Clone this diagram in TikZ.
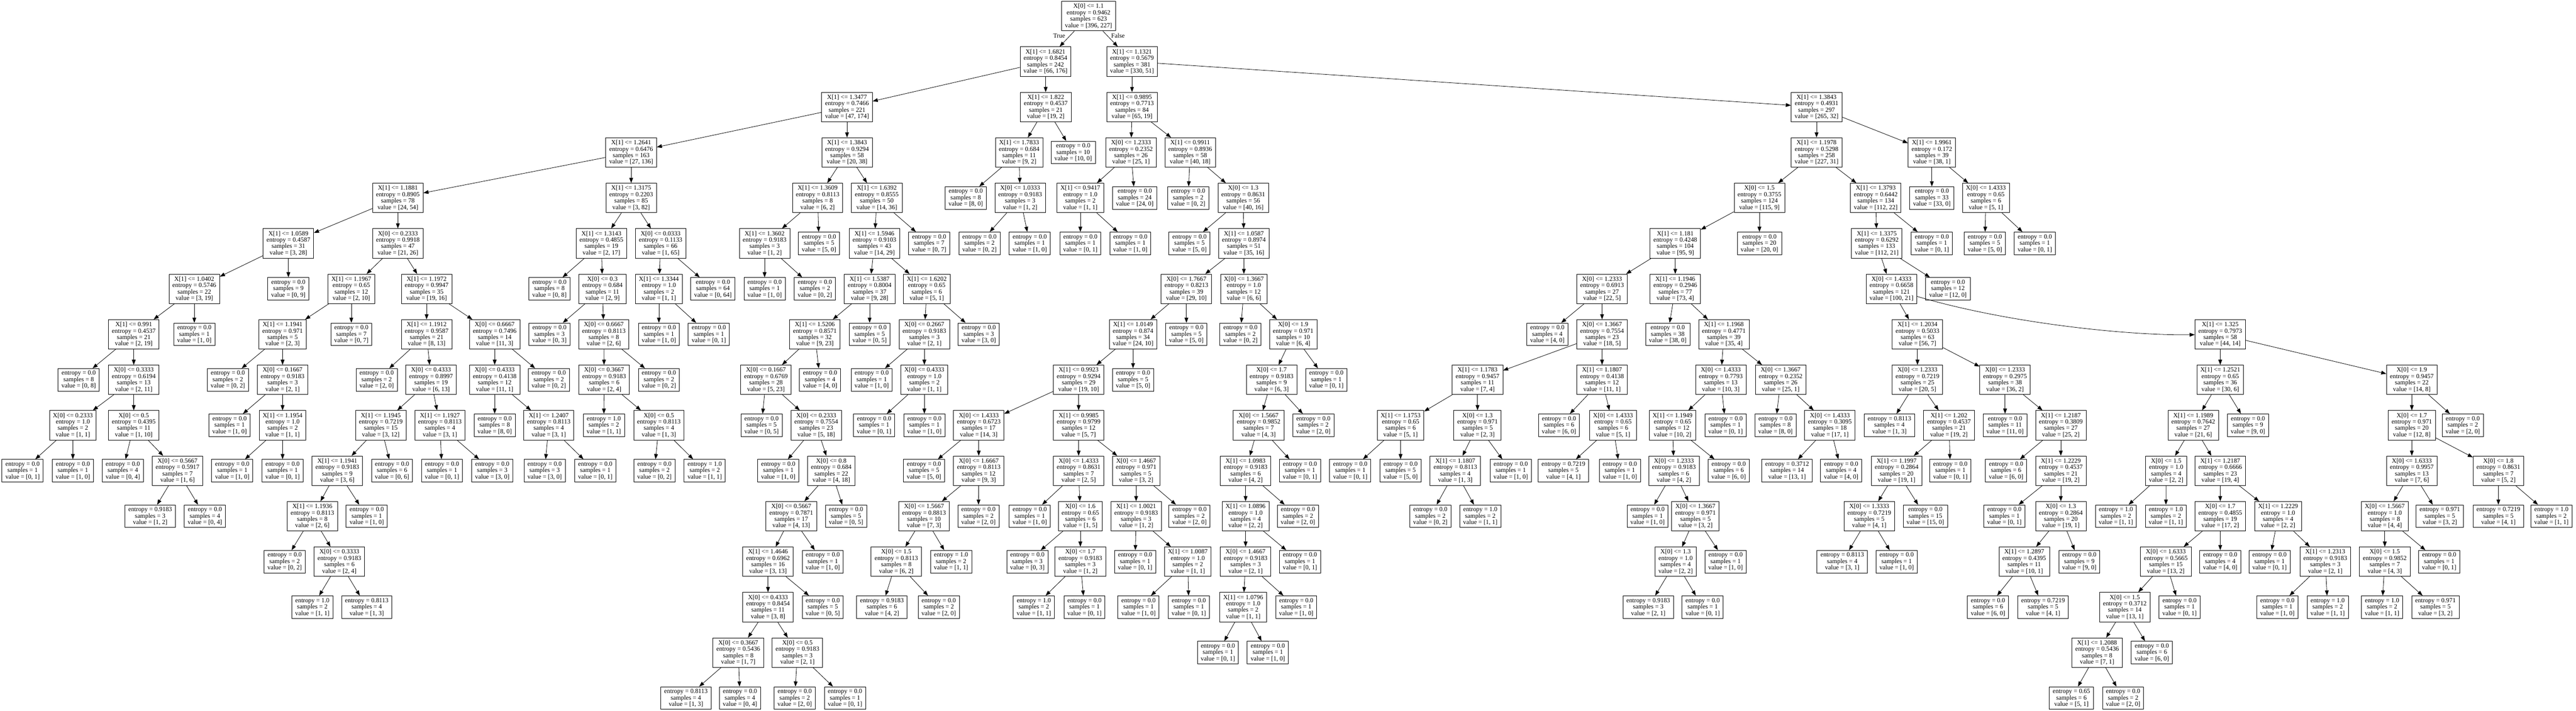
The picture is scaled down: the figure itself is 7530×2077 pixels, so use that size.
\documentclass[tikz,border=0pt]{standalone}
\usepackage{fontspec}
\setmainfont{Liberation Serif}
\usetikzlibrary{arrows.meta}
\newcommand{\DN}[7]{\node[dec] (#1) at (#2,{47+132.9*#3}) {#4\\entropy = #5\\samples = #6\\value = [#7]};}
\newcommand{\LN}[6]{\node[lf] (#1) at (#2,{47+132.9*#3}) {entropy = #4\\samples = #5\\value = [#6]};}
\newcommand{\ED}[2]{\draw[edge] (#1) -- (#2);}
\begin{document}
\begin{tikzpicture}[x=1pt,y=-1pt,
 box/.style={draw, line width=1.3pt, inner xsep=10pt, inner ysep=2pt, align=center, font=\fontsize{18.6}{18.7}\selectfont},
 dec/.style={box, minimum height=86pt},
 lf/.style={box, minimum height=66pt},
 edge/.style={line width=1.2pt, -{Triangle[length=15pt,width=11pt]}},
 lbl/.style={font=\fontsize{18.6}{18.7}\selectfont}]
\fill[white] (0,0) rectangle (7530,2077);
\useasboundingbox (0,0) rectangle (7530,2077);
% root
\DN{r}{3182}{0}{X[0] <= 1.1}{0.9462}{623}{396, 227}
\DN{a}{3056}{1}{X[1] <= 1.6821}{0.8454}{242}{66, 176}
\DN{b}{3309}{1}{X[1] <= 1.1321}{0.5679}{381}{330, 51}
\ED{r}{a}\ED{r}{b}
\node[lbl] (ltrue) at (3096,105) {True};
\node[lbl] (lfalse) at (3268,105) {False};
% left subtree
\DN{a1}{2476}{2}{X[1] <= 1.3477}{0.7466}{221}{47, 174}
\DN{a2}{3057}{2}{X[1] <= 1.822}{0.4537}{21}{19, 2}
\ED{a}{a1}\ED{a}{a2}
\DN{a11}{1845}{3}{X[1] <= 1.2641}{0.6476}{163}{27, 136}
\DN{a12}{2476}{3}{X[1] <= 1.3843}{0.9294}{58}{20, 38}
\ED{a1}{a11}\ED{a1}{a12}
\DN{a21}{2979}{3}{X[1] <= 1.7833}{0.684}{11}{9, 2}
\LN{a22}{3137}{3}{0.0}{10}{10, 0}
\ED{a2}{a21}\ED{a2}{a22}
\LN{a211}{2823}{4}{0.0}{8}{8, 0}
\DN{a212}{2982}{4}{X[0] <= 1.0333}{0.9183}{3}{1, 2}
\ED{a21}{a211}\ED{a21}{a212}
\LN{a2121}{2863}{5}{0.0}{2}{0, 2}
\LN{a2122}{3010}{5}{0.0}{1}{1, 0}
\ED{a212}{a2121}\ED{a212}{a2122}
\DN{a111}{1163}{4}{X[1] <= 1.1881}{0.8905}{78}{24, 54}
\DN{a112}{1845}{4}{X[1] <= 1.3175}{0.2203}{85}{3, 82}
\ED{a11}{a111}\ED{a11}{a112}
\DN{a121}{2390}{4}{X[1] <= 1.3609}{0.8113}{8}{6, 2}
\DN{a122}{2563}{4}{X[1] <= 1.6392}{0.8555}{50}{14, 36}
\ED{a12}{a121}\ED{a12}{a122}
% c
\DN{c1}{843}{5}{X[1] <= 1.0589}{0.4587}{31}{3, 28}
\DN{c2}{1163}{5}{X[0] <= 0.2333}{0.9918}{47}{21, 26}
\ED{a111}{c1}\ED{a111}{c2}
\DN{c11}{568}{6}{X[1] <= 1.0402}{0.5746}{22}{3, 19}
\LN{c12}{843}{6}{0.0}{9}{0, 9}
\ED{c1}{c11}\ED{c1}{c12}
\DN{c111}{391}{7}{X[1] <= 0.991}{0.4537}{21}{2, 19}
\LN{c112}{568}{7}{0.0}{1}{1, 0}
\ED{c11}{c111}\ED{c11}{c112}
\LN{c1111}{230}{8}{0.0}{8}{0, 8}
\DN{c1112}{391}{8}{X[0] <= 0.3333}{0.6194}{13}{2, 11}
\ED{c111}{c1111}\ED{c111}{c1112}
\DN{c11121}{213}{9}{X[0] <= 0.2333}{1.0}{2}{1, 1}
\DN{c11122}{391}{9}{X[0] <= 0.5}{0.4395}{11}{1, 10}
\ED{c1112}{c11121}\ED{c1112}{c11122}
\LN{c111211}{66}{10}{0.0}{1}{0, 1}
\LN{c111212}{213}{10}{0.0}{1}{1, 0}
\ED{c11121}{c111211}\ED{c11121}{c111212}
\LN{c111221}{359}{10}{0.0}{4}{0, 4}
\DN{c111222}{519}{10}{X[0] <= 0.5667}{0.5917}{7}{1, 6}
\ED{c11122}{c111221}\ED{c11122}{c111222}
\LN{c1112221}{439}{11}{0.9183}{3}{1, 2}
\LN{c1112222}{599}{11}{0.0}{4}{0, 4}
\ED{c111222}{c1112221}\ED{c111222}{c1112222}
\DN{c21}{1027}{6}{X[1] <= 1.1967}{0.65}{12}{2, 10}
\DN{c22}{1247}{6}{X[1] <= 1.1972}{0.9947}{35}{19, 16}
\ED{c2}{c21}\ED{c2}{c22}
\DN{c211}{826}{7}{X[1] <= 1.1941}{0.971}{5}{2, 3}
\LN{c212}{1027}{7}{0.0}{7}{0, 7}
\ED{c21}{c211}\ED{c21}{c212}
\LN{c2111}{666}{8}{0.0}{2}{0, 2}
\DN{c2112}{826}{8}{X[0] <= 0.1667}{0.9183}{3}{2, 1}
\ED{c211}{c2111}\ED{c211}{c2112}
\LN{c21121}{671}{9}{0.0}{1}{1, 0}
\DN{c21122}{826}{9}{X[1] <= 1.1954}{1.0}{2}{1, 1}
\ED{c2112}{c21121}\ED{c2112}{c21122}
\LN{c211221}{679}{10}{0.0}{1}{1, 0}
\LN{c211222}{826}{10}{0.0}{1}{0, 1}
\ED{c21122}{c211221}\ED{c21122}{c211222}
\DN{c221}{1247}{7}{X[1] <= 1.1912}{0.9587}{21}{8, 13}
\DN{c222}{1446}{7}{X[0] <= 0.6667}{0.7496}{14}{11, 3}
\ED{c22}{c221}\ED{c22}{c222}
\LN{c2211}{1101}{8}{0.0}{2}{2, 0}
\DN{c2212}{1260}{8}{X[0] <= 0.4333}{0.8997}{19}{6, 13}
\ED{c221}{c2211}\ED{c221}{c2212}
\DN{c22121}{1113}{9}{X[1] <= 1.1945}{0.7219}{15}{3, 12}
\DN{c22122}{1286}{9}{X[1] <= 1.1927}{0.8113}{4}{3, 1}
\ED{c2212}{c22121}\ED{c2212}{c22122}
\DN{c221211}{986}{10}{X[1] <= 1.1941}{0.9183}{9}{3, 6}
\LN{c221212}{1146}{10}{0.0}{6}{0, 6}
\ED{c22121}{c221211}\ED{c22121}{c221212}
\DN{c2212111}{913}{11}{X[1] <= 1.1936}{0.8113}{8}{2, 6}
\LN{c2212112}{1072}{11}{0.0}{1}{1, 0}
\ED{c221211}{c2212111}\ED{c221211}{c2212112}
\LN{c22121111}{832}{12}{0.0}{2}{0, 2}
\DN{c22121112}{992}{12}{X[0] <= 0.3333}{0.9183}{6}{2, 4}
\ED{c2212111}{c22121111}\ED{c2212111}{c22121112}
\LN{c221211121}{913}{13}{1.0}{2}{1, 1}
\LN{c221211122}{1072}{13}{0.8113}{4}{1, 3}
\ED{c22121112}{c221211121}\ED{c22121112}{c221211122}
\LN{c221221}{1292}{10}{0.0}{1}{0, 1}
\LN{c221222}{1439}{10}{0.0}{3}{3, 0}
\ED{c22122}{c221221}\ED{c22122}{c221222}
\DN{c2221}{1446}{8}{X[0] <= 0.4333}{0.4138}{12}{11, 1}
\LN{c2222}{1604}{8}{0.0}{2}{0, 2}
\ED{c222}{c2221}\ED{c222}{c2222}
\LN{c22211}{1446}{9}{0.0}{8}{8, 0}
\DN{c22212}{1604}{9}{X[1] <= 1.2407}{0.8113}{4}{3, 1}
\ED{c2221}{c22211}\ED{c2221}{c22212}
\LN{c222121}{1592}{10}{0.0}{3}{3, 0}
\LN{c222122}{1740}{10}{0.0}{1}{0, 1}
\ED{c22212}{c222121}\ED{c22212}{c222122}
% d
\DN{d1}{1758}{5}{X[1] <= 1.3143}{0.4855}{19}{2, 17}
\DN{d2}{1931}{5}{X[0] <= 0.0333}{0.1133}{66}{1, 65}
\ED{a112}{d1}\ED{a112}{d2}
\LN{d11}{1606}{6}{0.0}{8}{0, 8}
\DN{d12}{1761}{6}{X[0] <= 0.3}{0.684}{11}{2, 9}
\ED{d1}{d11}\ED{d1}{d12}
\LN{d121}{1606}{7}{0.0}{3}{0, 3}
\DN{d122}{1765}{7}{X[0] <= 0.6667}{0.8113}{8}{2, 6}
\ED{d12}{d121}\ED{d12}{d122}
\DN{d1221}{1766}{8}{X[0] <= 0.3667}{0.9183}{6}{2, 4}
\LN{d1222}{1926}{8}{0.0}{2}{0, 2}
\ED{d122}{d1221}\ED{d122}{d1222}
\LN{d12211}{1765}{9}{1.0}{2}{1, 1}
\DN{d12212}{1926}{9}{X[0] <= 0.5}{0.8113}{4}{1, 3}
\ED{d1221}{d12211}\ED{d1221}{d12212}
\LN{d122121}{1913}{10}{0.0}{2}{0, 2}
\LN{d122122}{2060}{10}{1.0}{2}{1, 1}
\ED{d12212}{d122121}\ED{d12212}{d122122}
\DN{d21}{1926}{6}{X[1] <= 1.3344}{1.0}{2}{1, 1}
\LN{d22}{2084}{6}{0.0}{64}{0, 64}
\ED{d2}{d21}\ED{d2}{d22}
\LN{d211}{1926}{7}{0.0}{1}{1, 0}
\LN{d212}{2072}{7}{0.0}{1}{0, 1}
\ED{d21}{d211}\ED{d21}{d212}
% e
\DN{e1}{2235}{5}{X[1] <= 1.3602}{0.9183}{3}{1, 2}
\LN{e2}{2394}{5}{0.0}{5}{5, 0}
\ED{a121}{e1}\ED{a121}{e2}
\LN{e11}{2235}{6}{0.0}{1}{1, 0}
\LN{e12}{2382}{6}{0.0}{2}{0, 2}
\ED{e1}{e11}\ED{e1}{e12}
% f
\DN{f1}{2556}{5}{X[1] <= 1.5946}{0.9103}{43}{14, 29}
\LN{f2}{2716}{5}{0.0}{7}{0, 7}
\ED{a122}{f1}\ED{a122}{f2}
\DN{f11}{2542}{6}{X[1] <= 1.5387}{0.8004}{37}{9, 28}
\DN{f12}{2709}{6}{X[1] <= 1.6202}{0.65}{6}{5, 1}
\ED{f1}{f11}\ED{f1}{f12}
\DN{f111}{2382}{7}{X[1] <= 1.5206}{0.8571}{32}{9, 23}
\LN{f112}{2542}{7}{0.0}{5}{0, 5}
\ED{f11}{f111}\ED{f11}{f112}
\DN{f121}{2702}{7}{X[0] <= 0.2667}{0.9183}{3}{2, 1}
\LN{f122}{2861}{7}{0.0}{3}{3, 0}
\ED{f12}{f121}\ED{f12}{f122}
\DN{f1111}{2239}{8}{X[0] <= 0.1667}{0.6769}{28}{5, 23}
\LN{f1112}{2397}{8}{0.0}{4}{4, 0}
\ED{f111}{f1111}\ED{f111}{f1112}
\LN{f11111}{2226}{9}{0.0}{5}{0, 5}
\DN{f11112}{2386}{9}{X[0] <= 0.2333}{0.7554}{23}{5, 18}
\ED{f1111}{f11111}\ED{f1111}{f11112}
\LN{f111121}{2275}{10}{0.0}{1}{1, 0}
\DN{f111122}{2430}{10}{X[0] <= 0.8}{0.684}{22}{4, 18}
\ED{f11112}{f111121}\ED{f11112}{f111122}
\DN{g1}{2313}{11}{X[0] <= 0.5667}{0.7871}{17}{4, 13}
\LN{g2}{2473}{11}{0.0}{5}{0, 5}
\ED{f111122}{g1}\ED{f111122}{g2}
\DN{g11}{2245}{12}{X[1] <= 1.4646}{0.6962}{16}{3, 13}
\LN{g12}{2405}{12}{0.0}{1}{1, 0}
\ED{g1}{g11}\ED{g1}{g12}
\DN{g111}{2245}{13}{X[0] <= 0.4333}{0.8454}{11}{3, 8}
\LN{g112}{2405}{13}{0.0}{5}{0, 5}
\ED{g11}{g111}\ED{g11}{g112}
\DN{g1111}{2158}{14}{X[0] <= 0.3667}{0.5436}{8}{1, 7}
\DN{g1112}{2331}{14}{X[0] <= 0.5}{0.9183}{3}{2, 1}
\ED{g111}{g1111}\ED{g111}{g1112}
\LN{g11111}{2005}{15}{0.8113}{4}{1, 3}
\LN{g11112}{2163}{15}{0.0}{4}{0, 4}
\ED{g1111}{g11111}\ED{g1111}{g11112}
\LN{g11121}{2323}{15}{0.0}{2}{2, 0}
\LN{g11122}{2470}{15}{0.0}{1}{0, 1}
\ED{g1112}{g11121}\ED{g1112}{g11122}
\LN{f1211}{2548}{8}{0.0}{1}{1, 0}
\DN{f1212}{2702}{8}{X[0] <= 0.4333}{1.0}{2}{1, 1}
\ED{f121}{f1211}\ED{f121}{f1212}
\LN{f12121}{2555}{9}{0.0}{1}{0, 1}
\LN{f12122}{2702}{9}{0.0}{1}{1, 0}
\ED{f1212}{f12121}\ED{f1212}{f12122}
% b subtree
\DN{b1}{3309}{2}{X[1] <= 0.9895}{0.7713}{84}{65, 19}
\DN{b2}{5310}{2}{X[1] <= 1.3843}{0.4931}{297}{265, 32}
\ED{b}{b1}\ED{b}{b2}
\DN{b11}{3306}{3}{X[0] <= 1.2333}{0.2352}{26}{25, 1}
\DN{b12}{3479}{3}{X[1] <= 0.9911}{0.8936}{58}{40, 18}
\ED{b1}{b11}\ED{b1}{b12}
\DN{b111}{3158}{4}{X[1] <= 0.9417}{1.0}{2}{1, 1}
\LN{b112}{3317}{4}{0.0}{24}{24, 0}
\ED{b11}{b111}\ED{b11}{b112}
\LN{b1111}{3158}{5}{0.0}{1}{0, 1}
\LN{b1112}{3304}{5}{0.0}{1}{1, 0}
\ED{b111}{b1111}\ED{b111}{b1112}
\LN{b121}{3473}{4}{0.0}{2}{0, 2}
\DN{b122}{3634}{4}{X[0] <= 1.3}{0.8631}{56}{40, 16}
\ED{b12}{b121}\ED{b12}{b122}
\LN{b1221}{3477}{5}{0.0}{5}{5, 0}
\DN{b1222}{3636}{5}{X[1] <= 1.0587}{0.8974}{51}{35, 16}
\ED{b122}{b1221}\ED{b122}{b1222}
\DN{h1}{3468}{6}{X[0] <= 1.7667}{0.8213}{39}{29, 10}
\DN{h2}{3636}{6}{X[0] <= 1.3667}{1.0}{12}{6, 6}
\ED{b1222}{h1}\ED{b1222}{h2}
\DN{h11}{3312}{7}{X[1] <= 1.0149}{0.874}{34}{24, 10}
\LN{h12}{3468}{7}{0.0}{5}{5, 0}
\ED{h1}{h11}\ED{h1}{h12}
\DN{h111}{3153}{8}{X[1] <= 0.9923}{0.9294}{29}{19, 10}
\LN{h112}{3312}{8}{0.0}{5}{5, 0}
\ED{h11}{h111}\ED{h11}{h112}
\DN{h1111}{2861}{9}{X[0] <= 1.4333}{0.6723}{17}{14, 3}
\DN{h1112}{3153}{9}{X[1] <= 0.9985}{0.9799}{12}{5, 7}
\ED{h111}{h1111}\ED{h111}{h1112}
\LN{h11111}{2701}{10}{0.0}{5}{5, 0}
\DN{h11112}{2861}{10}{X[0] <= 1.6667}{0.8113}{12}{9, 3}
\ED{h1111}{h11111}\ED{h1111}{h11112}
\DN{h111121}{2701}{11}{X[0] <= 1.5667}{0.8813}{10}{7, 3}
\LN{h111122}{2860}{11}{0.0}{2}{2, 0}
\ED{h11112}{h111121}\ED{h11112}{h111122}
\DN{h1111211}{2620}{12}{X[0] <= 1.5}{0.8113}{8}{6, 2}
\LN{h1111212}{2780}{12}{1.0}{2}{1, 1}
\ED{h111121}{h1111211}\ED{h111121}{h1111212}
\LN{h11112111}{2578}{13}{0.9183}{6}{4, 2}
\LN{h11112112}{2744}{13}{0.0}{2}{2, 0}
\ED{h1111211}{h11112111}\ED{h1111211}{h11112112}
\DN{h11121}{3153}{10}{X[0] <= 1.4333}{0.8631}{7}{2, 5}
\DN{h11122}{3321}{10}{X[0] <= 1.4667}{0.971}{5}{3, 2}
\ED{h1112}{h11121}\ED{h1112}{h11122}
\LN{h111211}{3010}{11}{0.0}{1}{1, 0}
\DN{h111212}{3158}{11}{X[0] <= 1.6}{0.65}{6}{1, 5}
\ED{h11121}{h111211}\ED{h11121}{h111212}
\LN{h1112121}{3003}{12}{0.0}{3}{0, 3}
\DN{h1112122}{3158}{12}{X[0] <= 1.7}{0.9183}{3}{1, 2}
\ED{h111212}{h1112121}\ED{h111212}{h1112122}
\LN{h11121221}{3022}{13}{1.0}{2}{1, 1}
\LN{h11121222}{3170}{13}{0.0}{1}{0, 1}
\ED{h1112122}{h11121221}\ED{h1112122}{h11121222}
\DN{h111221}{3321}{11}{X[1] <= 1.0021}{0.9183}{3}{1, 2}
\LN{h111222}{3477}{11}{0.0}{2}{2, 0}
\ED{h11122}{h111221}\ED{h11122}{h111222}
\LN{h1112211}{3318}{12}{0.0}{1}{0, 1}
\DN{h1112212}{3472}{12}{X[1] <= 1.0087}{1.0}{2}{1, 1}
\ED{h111221}{h1112211}\ED{h111221}{h1112212}
\LN{h11122121}{3328}{13}{0.0}{1}{1, 0}
\LN{h11122122}{3475}{13}{0.0}{1}{0, 1}
\ED{h1112212}{h11122121}\ED{h1112212}{h11122122}
\LN{h21}{3626}{7}{0.0}{2}{0, 2}
\DN{h22}{3780}{7}{X[0] <= 1.9}{0.971}{10}{6, 4}
\ED{h2}{h21}\ED{h2}{h22}
\DN{h221}{3717}{8}{X[0] <= 1.7}{0.9183}{9}{6, 3}
\LN{h222}{3877}{8}{0.0}{1}{0, 1}
\ED{h22}{h221}\ED{h22}{h222}
\DN{h2211}{3679}{9}{X[0] <= 1.5667}{0.9852}{7}{4, 3}
\LN{h2212}{3839}{9}{0.0}{2}{2, 0}
\ED{h221}{h2211}\ED{h221}{h2212}
\DN{h22111}{3641}{10}{X[1] <= 1.0983}{0.9183}{6}{4, 2}
\LN{h22112}{3800}{10}{0.0}{1}{0, 1}
\ED{h2211}{h22111}\ED{h2211}{h22112}
\DN{h221111}{3641}{11}{X[1] <= 1.0896}{1.0}{4}{2, 2}
\LN{h221112}{3794}{11}{0.0}{2}{2, 0}
\ED{h22111}{h221111}\ED{h22111}{h221112}
\DN{h2211111}{3641}{12}{X[0] <= 1.4667}{0.9183}{3}{2, 1}
\LN{h2211112}{3800}{12}{0.0}{1}{0, 1}
\ED{h221111}{h2211111}\ED{h221111}{h2211112}
\DN{h22111111}{3634}{13}{X[1] <= 1.0796}{1.0}{2}{1, 1}
\LN{h22111112}{3789}{13}{0.0}{1}{1, 0}
\ED{h2211111}{h22111111}\ED{h2211111}{h22111112}
\LN{h221111111}{3560}{14}{0.0}{1}{0, 1}
\LN{h221111112}{3706}{14}{0.0}{1}{1, 0}
\ED{h22111111}{h221111111}\ED{h22111111}{h221111112}
% k
\DN{k1}{5310}{3}{X[1] <= 1.1978}{0.5298}{258}{227, 31}
\DN{k2}{5647}{3}{X[1] <= 1.9961}{0.172}{39}{38, 1}
\ED{b2}{k1}\ED{b2}{k2}
\LN{k21}{5647}{4}{0.0}{33}{33, 0}
\DN{k22}{5805}{4}{X[0] <= 1.4333}{0.65}{6}{5, 1}
\ED{k2}{k21}\ED{k2}{k22}
\LN{k221}{5802}{5}{0.0}{5}{5, 0}
\LN{k222}{5948}{5}{0.0}{1}{0, 1}
\ED{k22}{k221}\ED{k22}{k222}
\DN{k11}{5143}{4}{X[0] <= 1.5}{0.3755}{124}{115, 9}
\DN{k12}{5483}{4}{X[1] <= 1.3793}{0.6442}{134}{112, 22}
\ED{k1}{k11}\ED{k1}{k12}
\DN{k111}{4897}{5}{X[1] <= 1.181}{0.4248}{104}{95, 9}
\LN{k112}{5143}{5}{0.0}{20}{20, 0}
\ED{k11}{k111}\ED{k11}{k112}
\DN{k121}{5486}{5}{X[1] <= 1.3375}{0.6292}{133}{112, 21}
\LN{k122}{5647}{5}{0.0}{1}{0, 1}
\ED{k12}{k121}\ED{k12}{k122}
% m
\DN{m1}{4683}{6}{X[0] <= 1.2333}{0.6913}{27}{22, 5}
\DN{m2}{4897}{6}{X[1] <= 1.1946}{0.2946}{77}{73, 4}
\ED{k111}{m1}\ED{k111}{m2}
\LN{m11}{4523}{7}{0.0}{4}{4, 0}
\DN{m12}{4683}{7}{X[0] <= 1.3667}{0.7554}{23}{18, 5}
\ED{m1}{m11}\ED{m1}{m12}
\DN{m121}{4319}{8}{X[1] <= 1.1783}{0.9457}{11}{7, 4}
\DN{m122}{4683}{8}{X[1] <= 1.1807}{0.4138}{12}{11, 1}
\ED{m12}{m121}\ED{m12}{m122}
\DN{m1211}{4094}{9}{X[1] <= 1.1753}{0.65}{6}{5, 1}
\DN{m1212}{4319}{9}{X[0] <= 1.3}{0.971}{5}{2, 3}
\ED{m121}{m1211}\ED{m121}{m1212}
\LN{m12111}{3947}{10}{0.0}{1}{0, 1}
\LN{m12112}{4094}{10}{0.0}{5}{5, 0}
\ED{m1211}{m12111}\ED{m1211}{m12112}
\DN{m12121}{4254}{10}{X[1] <= 1.1807}{0.8113}{4}{1, 3}
\LN{m12122}{4416}{10}{0.0}{1}{1, 0}
\ED{m1212}{m12121}\ED{m1212}{m12122}
\LN{m121211}{4181}{11}{0.0}{2}{0, 2}
\LN{m121212}{4327}{11}{1.0}{2}{1, 1}
\ED{m12121}{m121211}\ED{m12121}{m121212}
\LN{m1221}{4557}{9}{0.0}{6}{6, 0}
\DN{m1222}{4715}{9}{X[0] <= 1.4333}{0.65}{6}{5, 1}
\ED{m122}{m1221}\ED{m122}{m1222}
\LN{m12221}{4570}{10}{0.7219}{5}{4, 1}
\LN{m12222}{4735}{10}{0.0}{1}{1, 0}
\ED{m1222}{m12221}\ED{m1222}{m12222}
\LN{m21}{4875}{7}{0.0}{38}{38, 0}
\DN{m22}{5039}{7}{X[1] <= 1.1968}{0.4771}{39}{35, 4}
\ED{m2}{m21}\ED{m2}{m22}
\DN{m221}{5030}{8}{X[0] <= 1.4333}{0.7793}{13}{10, 3}
\DN{m222}{5205}{8}{X[0] <= 1.3667}{0.2352}{26}{25, 1}
\ED{m22}{m221}\ED{m22}{m222}
\DN{m2211}{4889}{9}{X[1] <= 1.1949}{0.65}{12}{10, 2}
\LN{m2212}{5044}{9}{0.0}{1}{0, 1}
\ED{m221}{m2211}\ED{m221}{m2212}
\DN{m22111}{4893}{10}{X[0] <= 1.2333}{0.9183}{6}{4, 2}
\LN{m22112}{5053}{10}{0.0}{6}{6, 0}
\ED{m2211}{m22111}\ED{m2211}{m22112}
\LN{m221111}{4816}{11}{0.0}{1}{1, 0}
\DN{m221112}{4956}{11}{X[0] <= 1.3667}{0.971}{5}{3, 2}
\ED{m22111}{m221111}\ED{m22111}{m221112}
\DN{m2211121}{4898}{12}{X[0] <= 1.3}{1.0}{4}{2, 2}
\LN{m2211122}{5044}{12}{0.0}{1}{1, 0}
\ED{m221112}{m2211121}\ED{m221112}{m2211122}
\LN{m22111211}{4818}{13}{0.9183}{3}{2, 1}
\LN{m22111212}{4977}{13}{0.0}{1}{0, 1}
\ED{m2211121}{m22111211}\ED{m2211121}{m22111212}
\LN{m2221}{5190}{9}{0.0}{8}{8, 0}
\DN{m2222}{5349}{9}{X[0] <= 1.4333}{0.3095}{18}{17, 1}
\ED{m222}{m2221}\ED{m222}{m2222}
\LN{m22221}{5224}{10}{0.3712}{14}{13, 1}
\LN{m22222}{5382}{10}{0.0}{4}{4, 0}
\ED{m2222}{m22221}\ED{m2222}{m22222}
% p
\DN{p1}{5529}{6}{X[0] <= 1.4333}{0.6658}{121}{100, 21}
\LN{p2}{5694}{6}{0.0}{12}{12, 0}
\ED{k121}{p1}\ED{k121}{p2}
\DN{p11}{5605}{7}{X[1] <= 1.2034}{0.5033}{63}{56, 7}
\DN{p12}{6490}{7}{X[1] <= 1.325}{0.7973}{58}{44, 14}
\ED{p1}{p11}
\draw[edge] (p1) .. controls (5870,945) and (6220,981) .. (p12);
\DN{p111}{5605}{8}{X[0] <= 1.2333}{0.7219}{25}{20, 5}
\DN{p112}{5861}{8}{X[0] <= 1.2333}{0.2975}{38}{36, 2}
\ED{p11}{p111}\ED{p11}{p112}
\LN{p1111}{5523}{9}{0.8113}{4}{1, 3}
\DN{p1112}{5697}{9}{X[1] <= 1.202}{0.4537}{21}{19, 2}
\ED{p111}{p1111}\ED{p111}{p1112}
\DN{p11121}{5544}{10}{X[1] <= 1.1997}{0.2864}{20}{19, 1}
\LN{p11122}{5701}{10}{0.0}{1}{0, 1}
\ED{p1112}{p11121}\ED{p1112}{p11122}
\DN{p111211}{5464}{11}{X[0] <= 1.3333}{0.7219}{5}{4, 1}
\LN{p111212}{5628}{11}{0.0}{15}{15, 0}
\ED{p11121}{p111211}\ED{p11121}{p111212}
\LN{p1112111}{5385}{12}{0.8113}{4}{3, 1}
\LN{p1112112}{5544}{12}{0.0}{1}{1, 0}
\ED{p111211}{p1112111}\ED{p111211}{p1112112}
\LN{p1121}{5861}{9}{0.0}{11}{11, 0}
\DN{p1122}{6024}{9}{X[1] <= 1.2187}{0.3809}{27}{25, 2}
\ED{p112}{p1121}\ED{p112}{p1122}
\LN{p11221}{5864}{10}{0.0}{6}{6, 0}
\DN{p11222}{6024}{10}{X[1] <= 1.2229}{0.4537}{21}{19, 2}
\ED{p1122}{p11221}\ED{p1122}{p11222}
\LN{p112221}{5859}{11}{0.0}{1}{0, 1}
\DN{p112222}{6024}{11}{X[0] <= 1.3}{0.2864}{20}{19, 1}
\ED{p11222}{p112221}\ED{p11222}{p112222}
\DN{p1122221}{5917}{12}{X[1] <= 1.2897}{0.4395}{11}{10, 1}
\LN{p1122222}{6078}{12}{0.0}{9}{9, 0}
\ED{p112222}{p1122221}\ED{p112222}{p1122222}
\LN{p11222211}{5811}{13}{0.0}{6}{6, 0}
\LN{p11222212}{5972}{13}{0.7219}{5}{4, 1}
\ED{p1122221}{p11222211}\ED{p1122221}{p11222212}
% q
\DN{q1}{6490}{8}{X[1] <= 1.2521}{0.65}{36}{30, 6}
\DN{q2}{7050}{8}{X[0] <= 1.9}{0.9457}{22}{14, 8}
\ED{p12}{q1}\ED{p12}{q2}
\DN{q11}{6411}{9}{X[1] <= 1.1989}{0.7642}{27}{21, 6}
\LN{q12}{6571}{9}{0.0}{9}{9, 0}
\ED{q1}{q11}\ED{q1}{q12}
\DN{q111}{6332}{10}{X[0] <= 1.5}{1.0}{4}{2, 2}
\DN{q112}{6490}{10}{X[1] <= 1.2187}{0.6666}{23}{19, 4}
\ED{q11}{q111}\ED{q11}{q112}
\LN{q1111}{6185}{11}{1.0}{2}{1, 1}
\LN{q1112}{6331}{11}{1.0}{2}{1, 1}
\ED{q111}{q1111}\ED{q111}{q1112}
\DN{q1121}{6490}{11}{X[0] <= 1.7}{0.4855}{19}{17, 2}
\DN{q1122}{6659}{11}{X[1] <= 1.2229}{1.0}{4}{2, 2}
\ED{q112}{q1121}\ED{q112}{q1122}
\DN{q11211}{6331}{12}{X[0] <= 1.6333}{0.5665}{15}{13, 2}
\LN{q11212}{6490}{12}{0.0}{4}{4, 0}
\ED{q1121}{q11211}\ED{q1121}{q11212}
\DN{q112111}{6211}{13}{X[0] <= 1.5}{0.3712}{14}{13, 1}
\LN{q112112}{6371}{13}{0.0}{1}{0, 1}
\ED{q11211}{q112111}\ED{q11211}{q112112}
\DN{q1121111}{6130}{14}{X[1] <= 1.2088}{0.5436}{8}{7, 1}
\LN{q1121112}{6290}{14}{0.0}{6}{6, 0}
\ED{q112111}{q1121111}\ED{q112111}{q1121112}
\LN{q11211111}{6055}{15}{0.65}{6}{5, 1}
\LN{q11211112}{6206}{15}{0.0}{2}{2, 0}
\ED{q1121111}{q11211111}\ED{q1121111}{q11211112}
\LN{q11221}{6634}{12}{0.0}{1}{0, 1}
\DN{q11222}{6797}{12}{X[1] <= 1.2313}{0.9183}{3}{2, 1}
\ED{q1122}{q11221}\ED{q1122}{q11222}
\LN{q112221}{6657}{13}{0.0}{1}{1, 0}
\LN{q112222}{6804}{13}{1.0}{2}{1, 1}
\ED{q11222}{q112221}\ED{q11222}{q112222}
\DN{q21}{7050}{9}{X[0] <= 1.7}{0.971}{20}{12, 8}
\LN{q22}{7199}{9}{0.0}{2}{2, 0}
\ED{q2}{q21}\ED{q2}{q22}
\DN{q211}{7050}{10}{X[0] <= 1.6333}{0.9957}{13}{7, 6}
\DN{q212}{7303}{10}{X[0] <= 1.8}{0.8631}{7}{5, 2}
\ED{q21}{q211}\ED{q21}{q212}
\DN{q2111}{6971}{11}{X[0] <= 1.5667}{1.0}{8}{4, 4}
\LN{q2112}{7132}{11}{0.971}{5}{3, 2}
\ED{q211}{q2111}\ED{q211}{q2112}
\DN{q21111}{6971}{12}{X[0] <= 1.5}{0.9852}{7}{4, 3}
\LN{q21112}{7130}{12}{0.0}{1}{0, 1}
\ED{q2111}{q21111}\ED{q2111}{q21112}
\LN{q211111}{6963}{13}{1.0}{2}{1, 1}
\LN{q211112}{7119}{13}{0.971}{5}{3, 2}
\ED{q21111}{q211111}\ED{q21111}{q211112}
\LN{q2121}{7303}{11}{0.7219}{5}{4, 1}
\LN{q2122}{7458}{11}{1.0}{2}{1, 1}
\ED{q212}{q2121}\ED{q212}{q2122}
\end{tikzpicture}
\end{document}
